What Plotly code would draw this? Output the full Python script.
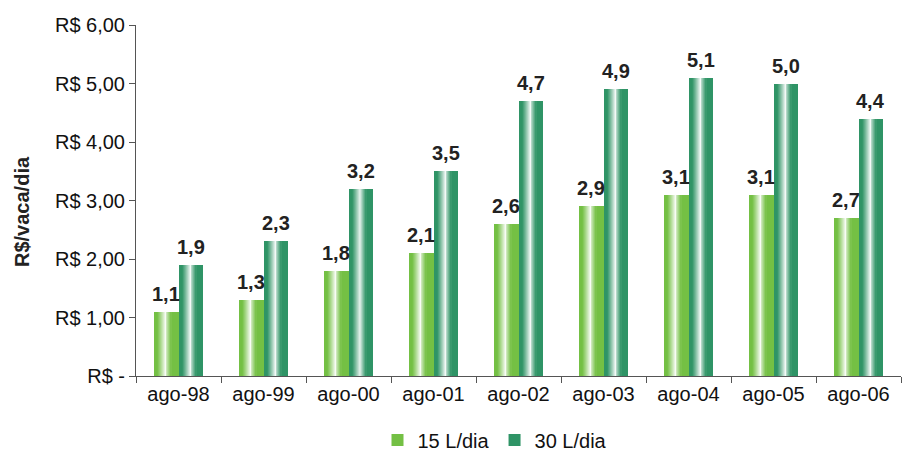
import plotly.graph_objects as go

# Custo por vaca por dia (R$), por nível de produção
categorias = ["ago-98", "ago-99", "ago-00", "ago-01", "ago-02",
              "ago-03", "ago-04", "ago-05", "ago-06"]
serie_15 = [1.1, 1.3, 1.8, 2.1, 2.6, 2.9, 3.1, 3.1, 2.7]
serie_30 = [1.9, 2.3, 3.2, 3.5, 4.7, 4.9, 5.1, 5.0, 4.4]
nomes = ["15 L/dia", "30 L/dia"]
y_ticks = [0, 1, 2, 3, 4, 5, 6]
y_ticktext = ["R$ -", "R$ 1,00", "R$ 2,00", "R$ 3,00", "R$ 4,00", "R$ 5,00", "R$ 6,00"]

cores = ["#74c044", "#2f9466"]
bar_w = 0.294          # width of each bar in category units
n_strips = 26          # vertical strips used to fake a cylindrical shading
font_family = "Liberation Sans"

W, H = 906, 453
M_L, M_R, M_T, M_B = 136, 5, 25, 77
plot_w = W - M_L - M_R
plot_h = H - M_T - M_B
cat_px = plot_w / len(categorias)


def mix(hex_color, t):
    """Blend a colour towards white by fraction t."""
    h = hex_color.lstrip("#")
    r, g, b = (int(h[i:i + 2], 16) for i in (0, 2, 4))
    r = round(r + (255 - r) * t)
    g = round(g + (255 - g) * t)
    b = round(b + (255 - b) * t)
    return f"rgb({r},{g},{b})"


def shade(p):
    """Highlight intensity across the bar (0 = left edge, 1 = right edge)."""
    centre = 0.48
    d = abs(p - centre)
    if p < centre:
        s = max(0.0, 1 - d / 0.32)
    else:
        s = max(0.0, 1 - d / 0.25)
    return 0.95 * s ** 1.1


fig = go.Figure()

for k, (valores, nome, cor) in enumerate(zip([serie_15, serie_30], nomes, cores)):
    base_offset = -bar_w if k == 0 else 0.0
    # solid base bar (also the legend entry)
    fig.add_trace(go.Bar(
        x=categorias, y=valores, name=nome,
        marker=dict(color=cor, line=dict(width=0)),
        offset=base_offset, width=bar_w,
        hoverinfo="skip", showlegend=True,
    ))
    # shading strips drawn on top of the base bar
    sw = bar_w / n_strips
    for i in range(n_strips):
        p = (i + 0.5) / n_strips
        t = shade(p)
        if t < 0.02:
            continue
        fig.add_trace(go.Bar(
            x=categorias, y=valores,
            marker=dict(color=mix(cor, t), line=dict(width=0)),
            offset=base_offset + i * sw, width=sw * 1.05,
            hoverinfo="skip", showlegend=False,
        ))

# value labels above each bar
annotations = []
for valores, dx in ((serie_15, -bar_w / 2), (serie_30, bar_w / 2)):
    for c, v in zip(categorias, valores):
        annotations.append(dict(
            x=c, y=v, xref="x", yref="y",
            text=f"{v:.1f}".replace(".", ","),
            showarrow=False, yanchor="bottom",
            xshift=dx * cat_px, yshift=5,
            font=dict(family=font_family, size=20, color="#222222", weight="bold"),
        ))

# vertical axis title
annotations.append(dict(
    x=-(M_L - 22) / plot_w, y=(376 - 212) / plot_h,
    xref="paper", yref="paper", text="<b>R$/vaca/dia</b>",
    textangle=-90, showarrow=False, xanchor="center", yanchor="middle",
    font=dict(family=font_family, size=20, color="#222222"),
))

fig.update_layout(
    width=W, height=H,
    margin=dict(l=M_L, r=M_R, t=M_T, b=M_B, autoexpand=False),
    plot_bgcolor="white", paper_bgcolor="white",
    barmode="overlay", bargap=0,
    font=dict(family=font_family, size=20, color="#111111"),
    annotations=annotations,
    showlegend=True,
    legend=dict(orientation="h", x=(495 - M_L) / plot_w, xanchor="center",
                y=-(440 - (H - M_B)) / plot_h, yanchor="middle",
                font=dict(size=20, family=font_family, color="#111111"),
                itemwidth=30, traceorder="normal", tracegroupgap=0),
    xaxis=dict(
        type="category", range=[-0.5, 8.5],
        showline=True, linecolor="#555555", linewidth=1,
        ticks="outside", tickson="boundaries", ticklen=6, tickcolor="#555555",
        tickfont=dict(size=20, family=font_family, color="#111111"),
        showgrid=False, zeroline=False,
    ),
    yaxis=dict(
        range=[0, 6], tickvals=y_ticks, ticktext=y_ticktext,
        showline=True, linecolor="#555555", linewidth=1,
        ticks="outside", ticklen=6, tickcolor="#555555",
        tickfont=dict(size=20, family=font_family, color="#111111"),
        showgrid=False, zeroline=False,
    ),
)

fig.write_html("out.html")
